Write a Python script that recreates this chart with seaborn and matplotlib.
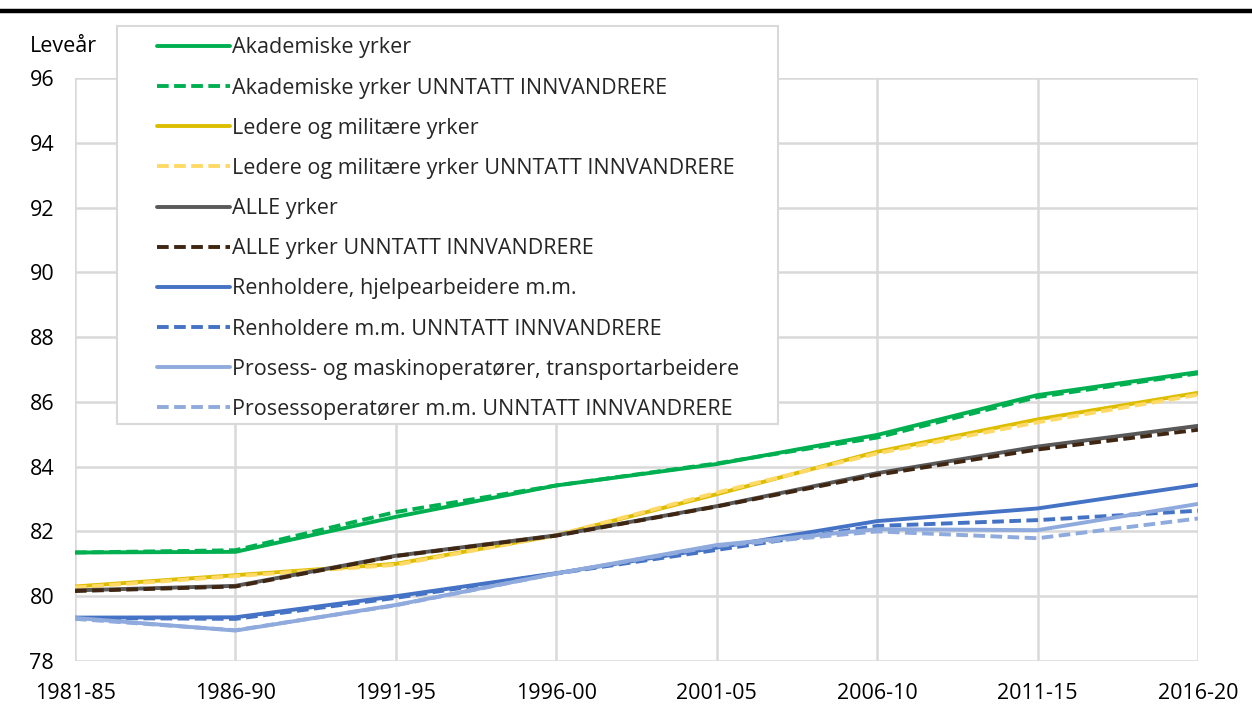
import matplotlib
matplotlib.use("Agg")
import matplotlib.pyplot as plt
import seaborn as sns
import pandas as pd
from matplotlib.lines import Line2D
from matplotlib.patches import Rectangle

periods = ["1981-85", "1986-90", "1991-95", "1996-00", "2001-05", "2006-10", "2011-15", "2016-20"]

akademiske = [81.35, 81.37, 82.45, 83.42, 84.08, 84.98, 86.21, 86.92]
akademiske_u = [81.35, 81.42, 82.60, 83.42, 84.10, 84.90, 86.15, 86.88]
ledere = [80.30, 80.65, 81.00, 81.88, 83.15, 84.46, 85.46, 86.28]
ledere_u = [80.27, 80.62, 80.97, 81.88, 83.20, 84.41, 85.37, 86.22]
alle = [80.18, 80.32, 81.25, 81.88, 82.78, 83.80, 84.62, 85.26]
alle_u = [80.16, 80.30, 81.24, 81.87, 82.77, 83.75, 84.53, 85.14]
renholdere = [79.34, 79.35, 80.00, 80.71, 81.50, 82.32, 82.71, 83.44]
renholdere_u = [79.33, 79.30, 79.95, 80.70, 81.43, 82.17, 82.35, 82.64]
prosess = [79.33, 78.94, 79.73, 80.70, 81.58, 82.07, 82.04, 82.85]
prosess_u = [79.30, 78.95, 79.72, 80.70, 81.55, 82.00, 81.79, 82.40]

series_names = [
    "Akademiske yrker",
    "Akademiske yrker UNNTATT INNVANDRERE",
    "Ledere og militære yrker",
    "Ledere og militære yrker UNNTATT INNVANDRERE",
    "ALLE yrker",
    "ALLE yrker UNNTATT INNVANDRERE",
    "Renholdere, hjelpearbeidere m.m.",
    "Renholdere m.m. UNNTATT INNVANDRERE",
    "Prosess- og maskinoperatører, transportarbeidere",
    "Prosessoperatører m.m. UNNTATT INNVANDRERE",
]
series_values = [akademiske, akademiske_u, ledere, ledere_u, alle, alle_u,
                 renholdere, renholdere_u, prosess, prosess_u]
colors = ["#00B050", "#00B050", "#DDBD00", "#FFD966", "#595959", "#3F2612",
          "#4472C4", "#4472C4", "#8FAADC", "#8FAADC"]
dashed = [False, True, False, True, False, True, False, True, False, True]

y_ticks = [78, 80, 82, 84, 86, 88, 90, 92, 94, 96]

rows = []
for name, vals in zip(series_names, series_values):
    for p, v in zip(periods, vals):
        rows.append({"periode": p, "levealder": v, "serie": name})
df = pd.DataFrame(rows)

DASH = (3.0, 1.4)
palette = dict(zip(series_names, colors))
dashes = {n: (DASH if d else "") for n, d in zip(series_names, dashed)}

sns.set_style("white")
plt.rcParams["font.family"] = ["Open Sans", "DejaVu Sans"]

fig = plt.figure(figsize=(12.52, 7.09), dpi=100)
ax = fig.add_axes([75 / 1252, 1 - 661 / 709, (1198 - 75) / 1252, (661 - 78) / 709])

LW = 2.8
sns.lineplot(data=df, x="periode", y="levealder", hue="serie", style="serie",
             hue_order=series_names, style_order=series_names,
             palette=palette, dashes=dashes, linewidth=LW, sort=False,
             legend=False, ax=ax)

ax.set_xlim(0, len(periods) - 1)
ax.set_ylim(78, 96)
ax.set_yticks(y_ticks)
ax.set_xticks(range(len(periods)))
ax.set_xticklabels(periods)
ax.set_xlabel("")
ax.set_ylabel("")
for s in ax.spines.values():
    s.set_visible(False)
ax.grid(True, color="#D9D9D9", linewidth=1.8)
ax.set_axisbelow(True)
ax.tick_params(axis="x", length=0, pad=15.5, labelsize=15.5, labelcolor="black")
ax.tick_params(axis="y", length=0, pad=15, labelsize=15.5, labelcolor="black")

fig.text(30 / 1252, 1 - 46 / 709, "Leveår", fontsize=15.5, ha="left", va="center", color="black")

# top rule
fig.add_artist(Line2D([0.0, 1.0], [1 - 11 / 709] * 2, color="black", lw=3.2,
                      transform=fig.transFigure))

# legend frame
fig.add_artist(Rectangle((117 / 1252, 1 - 424 / 709), 661 / 1252, 398 / 709,
                         transform=fig.transFigure, facecolor="white",
                         edgecolor="#D9D9D9", lw=1.5, zorder=1))

handles = []
for c, d in zip(colors, dashed):
    h = Line2D([0], [0], color=c, lw=LW)
    if d:
        h.set_dashes(DASH)
    handles.append(h)

fig.legend(handles, series_names, loc="upper left",
           bbox_to_anchor=(157 / 1252, 1 - 37.5 / 709),
           frameon=False, fontsize=15.5, handlelength=3.4, handletextpad=0.1,
           labelspacing=0.89, borderpad=0, borderaxespad=0)

fig.savefig("out.png", dpi=100)
